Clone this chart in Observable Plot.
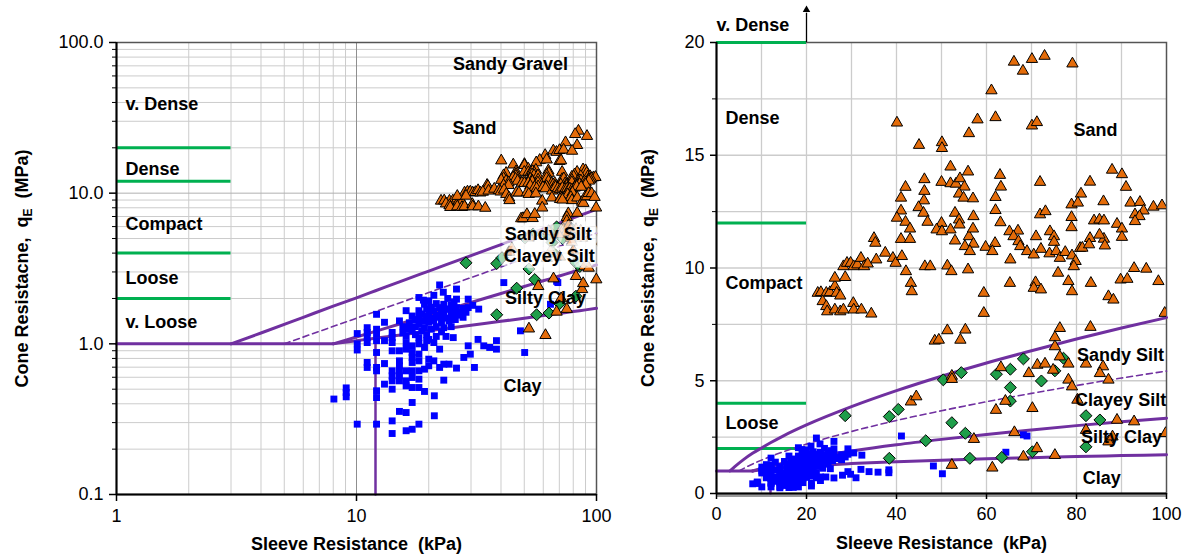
<!DOCTYPE html>
<html><head><meta charset="utf-8">
<script src="https://cdn.jsdelivr.net/npm/d3@7"></script>
<script src="https://cdn.jsdelivr.net/npm/@observablehq/plot@0.6"></script>
<style>
body{margin:0;background:#fff;}
#wrap{display:flex;width:1185px;height:560px;overflow:hidden;background:#fff;}
svg text{white-space:pre;}
</style></head><body><div id="wrap"></div>
<script>
// ---------- DATA (sleeve resistance fs [kPa], cone resistance qE [MPa]) ----------
const clayPoints = [
[8.05,0.43],[9.06,0.51],[9.06,0.475],[9.06,0.445],[10.07,0.293],[10.07,0.91],[10.07,1.0],[10.07,1.17],
[11.08,1.28],[11.08,1.19],[11.08,1.10],[11.08,1.02],[11.08,0.752],[11.08,0.697],
[12.12,1.57],[12.12,1.25],[12.12,1.16],[12.12,1.05],[12.12,0.876],[12.12,0.697],[12.12,0.662],[12.12,0.488],[12.12,0.44],[12.12,0.293],
[13.08,1.39],[13.08,1.05],[13.08,0.74],[13.08,0.54],
[14.08,1.19],[14.08,1.10],[14.08,1.02],[14.08,0.899],[14.08,0.662],[14.08,0.614],[14.08,0.568],[14.08,0.50],[14.08,0.308],[14.08,0.254],
[15.1,1.42],[15.1,0.899],[15.1,0.771],[15.1,0.715],[15.1,0.662],[15.1,0.614],[15.1,0.568],[15.1,0.356],
[16.1,1.66],[16.1,1.13],[16.1,1.02],[16.1,0.922],[16.1,0.662],[16.1,0.568],[16.1,0.526],[16.1,0.35],[16.1,0.265],
[17.06,1.53],[17.06,1.22],[17.06,0.97],[17.06,0.876],[17.06,0.812],[17.06,0.752],[17.06,0.662],[17.06,0.598],[17.06,0.513],[17.06,0.408],[17.06,0.271],
[18.2,2.03],[18.2,1.66],[18.2,1.50],[18.2,1.35],[18.2,1.10],[18.2,1.0],[18.2,0.854],[18.2,0.771],[18.2,0.662],[18.2,0.583],[18.2,0.513],[18.2,0.293],
[19.2,1.83],[19.2,1.42],[19.2,1.28],[19.2,0.946],[19.2,0.679],[19.2,0.483],
[20.0,1.93],[20.0,1.61],[20.0,1.39],[20.0,1.07],[20.0,0.791],[20.0,0.715],
[21.0,1.66],[21.0,1.42],[21.0,1.02],[21.0,0.771],[21.1,0.452],[21.1,0.333],
[22.2,2.46],[22.2,1.74],[22.2,1.50],[22.2,0.922],[22.2,0.697],
[23.1,1.83],[23.1,1.57],[23.1,1.28],[23.1,0.733],[23.1,0.574],
[24.3,1.70],[24.3,1.42],[24.3,0.733],[25.3,1.57],[25.3,1.10],
[26.1,2.31],[26.1,1.98],[26.1,1.74],[26.1,0.69],[27.1,1.61],[28.0,0.812],
[29.2,1.98],[29.2,1.74],[29.2,0.97],[29.8,0.854],[31.0,0.697],[32.3,1.70],[32.1,1.07],
[33.9,0.97],[35.9,0.946],[38.3,1.05],[38.3,0.922],[41.1,2.55],[48.2,1.22],[50.2,0.876],
[64.3,1.83],[69.0,2.55],[68.2,2.6],
[17.6,1.45],[17.6,1.3],[17.6,1.15],[18.7,1.58],[18.7,1.22],[18.7,1.42],[19.6,1.7],[19.6,1.52],[19.6,1.15],[19.6,1.05],
[20.5,1.75],[20.5,1.25],[20.5,1.48],[21.5,1.85],[21.5,1.55],[21.5,1.3],[21.5,1.12],[22.6,1.62],[22.6,1.38],[22.6,1.2],
[23.6,1.7],[23.6,1.48],[23.6,1.12],[24.8,1.8],[24.8,1.55],[24.8,1.3],[25.8,1.65],[25.8,1.45],[26.6,1.55],[27.8,1.72],
[27.8,1.5],[28.6,1.62],[30.5,1.8],[16.6,1.38],[16.6,1.25],[15.6,1.3],[15.6,1.18],[19.0,1.95],[21.0,2.1],[23.0,2.2],
[24.0,2.0],[25.5,1.9]
];
const siltPoints = [
[28.6,3.45],[38.4,3.41],[40.4,3.73],[50.4,5.04],[54.4,5.36],[52.3,3.14],[55.3,2.67],[46.5,2.34],
[38.4,1.56],[56.3,1.56],[63.4,1.6],[62.2,5.29],[65.3,5.51],[65.3,4.7],[65.3,4.1],[68.2,5.97],
[72.2,4.99],[75.2,5.44],[77.1,6.0],[82.1,3.45],[85.2,3.26],[82.1,2.07],[70.2,1.85]
];
const sandPoints = [
[84.1,25.9],[91.3,23.9],[81.5,24.6],[74.3,21.7],[83.0,20.8],
[66.1,19.14],[68.1,18.74],[70.1,19.26],[72.9,19.4],[79.1,19.06],[61.1,17.87],[58.0,16.58],[62.0,16.68],[70.1,16.31],[71.2,16.46],
[40.1,16.44],[56.1,15.97],[45.0,15.45],[50.1,15.57],[50.1,15.31],[52.0,14.49],[87.9,14.35],[90.1,14.15],[63.0,14.12],[55.9,14.27],
[46.2,13.93],[50.0,13.81],[52.0,13.75],[53.2,13.73],[54.1,13.97],[71.9,13.81],[83.0,13.82],[42.0,13.59],[91.0,13.59],[46.2,13.41],
[55.1,13.6],[63.2,13.6],[41.0,13.11],[46.1,12.99],[53.9,13.29],[54.9,13.11],[57.0,13.08],[62.0,13.14],[81.0,13.29],[78.9,12.81],
[80.3,12.89],[86.0,12.95],[92.0,12.89],[94.1,12.92],[97.1,12.71],[99.0,12.77],[44.9,12.69],[41.0,12.54],[46.0,12.44],[53.0,12.44],
[62.0,12.56],[78.9,12.25],[71.9,12.37],[73.1,12.51],[94.9,12.54],[93.0,12.37],[94.0,12.29],[40.1,12.22],[42.0,12.04],[46.9,12.04],
[50.0,11.99],[53.9,12.14],[57.1,12.29],[63.1,12.02],[83.9,12.1],[85.1,12.14],[86.1,12.1],[89.0,11.95],[90.1,11.74],[93.0,12.07],
[78.9,11.8],[43.0,11.74],[48.9,11.7],[50.1,11.62],[52.0,11.7],[54.0,11.92],[56.1,11.4],[57.0,11.74],[65.1,11.62],[67.0,11.65],
[74.1,11.62],[75.0,11.4],[71.0,11.4],[66.0,11.4],[83.0,11.32],[86.1,11.29],[90.1,11.37],[35.0,11.32],[41.0,11.28],[43.0,11.28],
[53.0,11.21],[85.1,11.47],
[35.3,11.11],[57.1,11.07],[67.1,11.18],[75.0,11.15],[61.9,11.1],[80.8,10.88],[55.2,10.96],[56.3,10.74],[59.8,10.93],[61.3,10.74],
[65.3,10.37],[67.5,10.96],[69.0,10.74],[70.5,10.59],[72.1,10.84],[74.0,10.64],[75.5,10.74],[76.3,10.44],[77.5,10.7],[79.0,10.55],
[79.8,10.3],[81.3,10.89],[82.8,11.04],[86.3,10.99],[75.9,9.78],[79.4,10.07],[78.2,9.41],[79.0,8.96],[83.2,9.33],[87.1,8.74],
[88.2,8.59],[89.8,9.48],[91.3,9.51],[92.8,9.99],[95.5,9.96],[98.2,9.41],[99.6,8.0],[65.2,9.33],[70.9,9.36],[70.5,9.11],
[72.1,9.04],[59.4,8.89],[59.4,8.0],
[22.5,8.89],[23.2,8.92],[24.4,8.89],[25.2,8.92],[26.3,9.19],[26.7,8.89],[27.5,8.77],[28.2,10.07],[29.0,10.22],[29.8,10.22],
[30.5,10.07],[31.3,10.15],[32.1,10.44],[32.8,10.07],[33.6,10.19],[35.5,10.37],[37.5,10.67],[39.2,10.44],[39.8,10.22],[41.2,10.52],
[42.1,9.85],[43.2,9.33],[43.4,8.96],[46.3,10.07],[47.5,10.07],[51.3,10.1],[52.2,9.85],[55.9,9.93],[23.6,8.52],[24.4,8.3],
[24.6,8.07],[26.3,8.15],[27.5,8.07],[28.2,8.15],[30.4,8.44],[30.5,8.15],[32.2,8.15],[34.4,7.97],[26.3,9.56],[28.6,9.59],
[48.5,6.77],[49.4,6.81],[51.3,7.23],[54.2,6.81],[55.3,7.26],[76.3,7.33],[75.2,6.92],[75.2,6.52],[83.1,7.38],[63.2,5.59],
[71.3,5.7],[73.0,5.75],[74.8,5.48],[76.3,6.07],[78.2,5.75],[82.1,5.75],[85.9,5.63],[85.2,5.33],[87.1,5.04],[78.2,5.04],
[79.0,4.74],[80.2,4.15],[69.4,5.33],[70.2,3.78],[52.3,5.21],[52.3,5.07],[62.1,3.7],[64.2,4.1],[43.2,4.07],[44.4,4.3],
[89.0,3.26],[92.8,3.19],[99.8,2.67],[87.1,2.3],[88.0,2.52],[82.1,2.81],[66.2,2.71],[57.2,2.41],[71.2,2.0],[75.2,1.7],
[68.2,1.63],[52.3,1.26],[61.3,1.14]
];

// Boundary lines (fs, qE)
const sandBoundary = [[3,1],[4,1.18],[6,1.5],[8,1.78],[10,2.02],[12,2.25],[15,2.57],[20,3.04],[30,3.85],[40,4.56],[50,5.2],[60,5.79],[70,6.33],[80,6.85],[90,7.34],[100,7.8]];
const siltDashBoundary = [[5,1],[7,1.21],[10,1.48],[15,1.86],[20,2.19],[30,2.75],[40,3.24],[50,3.67],[60,4.07],[70,4.44],[80,4.79],[90,5.12],[100,5.43]];
const siltyClayBoundary = [[8,1],[10,1.11],[15,1.35],[20,1.55],[30,1.88],[40,2.16],[50,2.4],[60,2.62],[70,2.82],[80,3.01],[90,3.18],[100,3.34]];
const clayBoundary = [[8,1],[10,1.05],[15,1.14],[20,1.22],[30,1.33],[40,1.41],[50,1.48],[60,1.54],[70,1.59],[80,1.64],[90,1.68],[100,1.72]];
const baseLineLog = [[1,1],[8,1]];
const baseLineLin = [[0,1],[8,1]];
const clayCutLog = [[12,0.1],[12,1]];
const clayCutLin = [[12,0],[12,1]];
const densityLevels = [2, 4, 12, 20];

// Tick values
const logMajor = [0.1, 1, 10, 100];
const logMinor = [0.2,0.3,0.4,0.5,0.6,0.7,0.8,0.9,2,3,4,5,6,7,8,9,20,30,40,50,60,70,80,90];
const xLogTicks = [1, 10, 100];
const xLinTicks = [0, 20, 40, 60, 80, 100];
const xLinGrid = [10, 20, 30, 40, 50, 60, 70, 80, 90];
const yLinTicks = [0, 5, 10, 15, 20];
const yLinMinor = [2.5, 7.5, 12.5, 17.5];
const yLinGrid = [2.5, 5, 7.5, 10, 12.5, 15, 17.5];

// Labels
const leftRegionLabels = [
  {t:"Sandy Gravel", fs:43.8, q:72}, {t:"Sand", fs:31, q:27.1},
  {t:"Sandy Silt", fs:63, q:5.37, halo:true}, {t:"Clayey Silt", fs:63.5, q:3.84, halo:true},
  {t:"Silty Clay", fs:61.3, q:2.02}, {t:"Clay", fs:49.2, q:0.52}
];
const leftDensityLabels = [
  {t:"v. Dense", fs:1.09, q:39.1}, {t:"Dense", fs:1.09, q:14.5}, {t:"Compact", fs:1.09, q:6.26},
  {t:"Loose", fs:1.09, q:2.74}, {t:"v. Loose", fs:1.09, q:1.40}
];
const rightRegionLabels = [
  {t:"Sand", fs:84.2, q:16.1}, {t:"Sandy Silt", fs:89.8, q:6.12}, {t:"Clayey Silt", fs:89.8, q:4.12},
  {t:"Silty Clay", fs:90, q:2.48}, {t:"Clay", fs:85.6, q:0.67}
];
const rightDensityLabels = [
  {t:"v. Dense", fs:0, q:20.75}, {t:"Dense", fs:2, q:16.63}, {t:"Compact", fs:2, q:9.31}, {t:"Loose", fs:2, q:3.1}
];
const vDenseArrow = [{fs:20, q1:20, q2:21.3, tip:21.45}];
const xLabel = "Sleeve Resistance  (kPa)";
const yLabelLeft = "Cone Resistacne,  q_E  (MPa)";
const yLabelRight = "Cone Resistance,  q_E  (MPa)";

// ---------- helpers ----------
const toObj = arr => arr.map(([fs, q]) => ({fs, q}));
const clay = toObj(clayPoints), silt = toObj(siltPoints), sand = toObj(sandPoints);
const PURPLE = "#7030a0", GREEN = "#00b050", ORANGE = "#e46c0a", DGREEN = "#1f9e4a", BLUE = "#0000ff";
const FONT = "'Liberation Sans', Arial, sans-serif";
const bold = {fontWeight: "bold", fontSize: 18, fill: "black"};

function pointMarks(clip) {
  return [
    Plot.dot(clay, {x:"fs", y:"q", symbol:"square", r:3.9, fill:BLUE, clip}),
    Plot.dot(silt, {x:"fs", y:"q", symbol:"diamond2", r:5.4, fill:DGREEN, stroke:"black", strokeWidth:1, clip}),
    Plot.dot(sand, {x:"fs", y:"q", symbol:"triangle", r:4.2, fill:ORANGE, stroke:"black", strokeWidth:1, clip})
  ];
}
function boundaryMarks(base, cut) {
  return [
    Plot.line(toObj(base), {x:"fs", y:"q", stroke:PURPLE, strokeWidth:3}),
    Plot.line(toObj(cut), {x:"fs", y:"q", stroke:PURPLE, strokeWidth:2.5}),
    Plot.line(toObj(sandBoundary), {x:"fs", y:"q", stroke:PURPLE, strokeWidth:3, curve:"monotone-x"}),
    Plot.line(toObj(siltDashBoundary), {x:"fs", y:"q", stroke:PURPLE, strokeWidth:1.6, strokeDasharray:"6,4", curve:"monotone-x"}),
    Plot.line(toObj(siltyClayBoundary), {x:"fs", y:"q", stroke:PURPLE, strokeWidth:3, curve:"monotone-x"}),
    Plot.line(toObj(clayBoundary), {x:"fs", y:"q", stroke:PURPLE, strokeWidth:3, curve:"monotone-x"})
  ];
}
function subscript(svg) {
  const ns = "http://www.w3.org/2000/svg";
  svg.querySelectorAll("text").forEach(t => {
    if (t.textContent.includes("q_E")) {
      const [a, b] = t.textContent.split("q_E");
      t.textContent = "";
      const s1 = document.createElementNS(ns, "tspan"); s1.textContent = a + "q";
      const s2 = document.createElementNS(ns, "tspan"); s2.textContent = "E"; s2.setAttribute("font-size", "12"); s2.setAttribute("dy", "4");
      const s3 = document.createElementNS(ns, "tspan"); s3.textContent = b; s3.setAttribute("dy", "-4");
      t.append(s1, s2, s3);
    }
  });
}

// ---------- LEFT: log-log ----------
const left = Plot.plot({
  width: 620, height: 560,
  marginLeft: 116, marginRight: 24, marginTop: 42, marginBottom: 66,
  style: {fontFamily: FONT, fontSize: "18px", background: "white", overflow: "visible"},
  x: {type: "log", domain: [1, 100], label: null},
  y: {type: "log", domain: [0.1, 100], label: null},
  marks: [
    Plot.gridX(logMinor.filter(d => d > 1), {stroke:"#cccccc", strokeOpacity:1}),
    Plot.gridY(logMinor, {stroke:"#cccccc", strokeOpacity:1}),
    Plot.gridY([1, 10], {stroke:"#b0b0b0", strokeOpacity:1}),
    Plot.gridX([10], {stroke:"#8f8f8f", strokeOpacity:1}),
    Plot.frame({stroke:"#555", strokeWidth:1.5}),
    Plot.ruleY(densityLevels, {x1: 1, x2: 3, stroke: GREEN, strokeWidth: 3}),
    ...boundaryMarks(baseLineLog, clayCutLog),
    ...pointMarks(false),
    Plot.text(leftRegionLabels.filter(d => d.halo), {x:"fs", y:"q", text:"t", ...bold, stroke:"white", strokeOpacity:0.6, strokeWidth:12, paintOrder:"stroke"}),
    Plot.text(leftRegionLabels.filter(d => !d.halo), {x:"fs", y:"q", text:"t", ...bold}),
    Plot.text(leftDensityLabels, {x:"fs", y:"q", text:"t", textAnchor:"start", ...bold}),
    Plot.ruleX([1], {stroke:"black", strokeWidth:2}),
    Plot.ruleY([0.1], {stroke:"black", strokeWidth:2}),
    Plot.axisY(logMajor, {tickSize:7, tickPadding:6, tickFormat: d => d.toFixed(1), stroke:"black", strokeWidth:1.5, label:null}),
    Plot.axisY(logMinor, {tickSize:4, text:null, stroke:"black", label:null}),
    Plot.axisX(xLogTicks, {tickSize:7, tickPadding:8, tickFormat: d => String(d), stroke:"black", strokeWidth:1.5, label:null}),
    Plot.text([xLabel], {frameAnchor:"bottom", dy:55, textAnchor:"middle", ...bold}),
    Plot.text([yLabelLeft], {frameAnchor:"left", dx:-94, rotate:-90, textAnchor:"middle", ...bold})
  ]
});

// ---------- RIGHT: linear ----------
const right = Plot.plot({
  width: 565, height: 560,
  marginLeft: 96, marginRight: 19, marginTop: 42, marginBottom: 67,
  style: {fontFamily: FONT, fontSize: "18px", background: "white", overflow: "visible"},
  x: {domain: [0, 100], label: null},
  y: {domain: [0, 20], label: null},
  marks: [
    Plot.gridX(xLinGrid, {stroke:"#cccccc", strokeOpacity:1, strokeWidth:1.3}),
    Plot.gridY(yLinGrid, {stroke:"#cccccc", strokeOpacity:1, strokeWidth:1.3}),
    Plot.frame({stroke:"#555", strokeWidth:1.5}),
    Plot.ruleY([0], {stroke:"#999", strokeWidth:3, dy:2}),
    Plot.ruleY(densityLevels, {x1: 0, x2: 20, stroke: GREEN, strokeWidth: 3}),
    ...boundaryMarks(baseLineLin, clayCutLin),
    ...pointMarks(true),
    Plot.text(rightRegionLabels, {x:"fs", y:"q", text:"t", ...bold}),
    Plot.text(rightDensityLabels, {x:"fs", y:"q", text:"t", textAnchor:"start", ...bold}),
    Plot.ruleX(vDenseArrow, {x:"fs", y1:"q1", y2:"q2", stroke:"black", strokeWidth:1.3}),
    Plot.dot(vDenseArrow, {x:"fs", y:"tip", symbol:"triangle", r:2.8, fill:"black"}),
    Plot.ruleX([0], {stroke:"black", strokeWidth:2}),
    Plot.ruleY([0], {stroke:"black", strokeWidth:2}),
    Plot.axisY(yLinTicks, {tickSize:6, tickPadding:6, stroke:"black", strokeWidth:1.5, label:null}),
    Plot.axisY(yLinMinor, {tickSize:4, text:null, stroke:"black", label:null}),
    Plot.axisX(xLinTicks, {tickSize:6, tickPadding:8, stroke:"black", strokeWidth:1.5, label:null}),
    Plot.text([xLabel], {frameAnchor:"bottom", dy:55, textAnchor:"middle", ...bold}),
    Plot.text([yLabelRight], {frameAnchor:"left", dx:-68, rotate:-90, textAnchor:"middle", ...bold})
  ]
});

subscript(left); subscript(right);
document.getElementById("wrap").append(left, right);
</script></body></html>
